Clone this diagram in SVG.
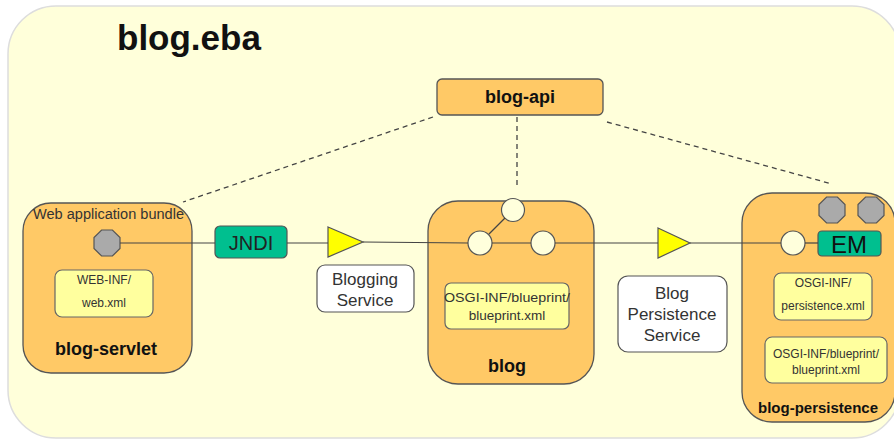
<svg xmlns="http://www.w3.org/2000/svg" width="894" height="439" viewBox="0 0 894 439">
<defs>
<style>
.bundle{fill:#FFC966;stroke:#555;stroke-width:1.3}
.inner{fill:#FFFF9E;stroke:#666;stroke-width:1.2}
.oct{fill:#AAAAAA;stroke:#555;stroke-width:1.2}
.circ{fill:#FFFFDC;stroke:#555;stroke-width:1.2}
.teal{fill:#00BF8F;stroke:#555;stroke-width:1.2}
.tri{fill:#FFFF00;stroke:#555;stroke-width:1.2}
.label{fill:#fff;stroke:#555;stroke-width:1.2}
.wire{stroke:#444;stroke-width:1.2;fill:none}
.dash{stroke:#444;stroke-width:1.3;fill:none;stroke-dasharray:5 4}
text{font-family:"Liberation Sans",Arial,sans-serif;fill:#222}
.b{font-weight:bold;fill:#111}
.s{font-size:12px;fill:#333}
.m{font-size:17px;fill:#333}
</style>
</defs>
<rect x="8" y="6" width="892" height="432" rx="48" fill="#FFFFDA" stroke="#DDDDDD" stroke-width="1.5"/>
<text x="117" y="50" class="b" font-size="35">blog.eba</text>

<g id="blog-api">
<rect x="437" y="79" width="166" height="36" rx="5" class="bundle"/>
<text x="520" y="103" class="b" font-size="18" text-anchor="middle">blog-api</text>
</g>

<g id="blog-servlet">
<rect x="23" y="203" width="169" height="170" rx="28" class="bundle"/>
<text x="33" y="219" font-size="14" style="fill:#333" textLength="151" lengthAdjust="spacingAndGlyphs">Web application bundle</text>
<polygon class="oct" points="101.6,230 112.4,230 120,237.6 120,248.4 112.4,256 101.6,256 94,248.4 94,237.6"/>
<rect x="55" y="270" width="98" height="47" rx="7" class="inner"/>
<text x="104" y="284" class="s" text-anchor="middle">WEB-INF/</text>
<text x="104" y="307" class="s" text-anchor="middle">web.xml</text>
<text x="106" y="355" class="b" font-size="18" text-anchor="middle">blog-servlet</text>
</g>

<g id="jndi">
<rect x="215" y="226" width="72" height="32" rx="5" class="teal"/>
<text x="251" y="250" font-size="20" text-anchor="middle">JNDI</text>
</g>

<g id="blogging-service">
<polygon class="tri" points="328,227 363,242 328,257"/>
<rect x="317" y="265" width="97" height="47" rx="8" class="label"/>
<text x="365" y="285" class="m" text-anchor="middle">Blogging</text>
<text x="365" y="306" class="m" text-anchor="middle">Service</text>
</g>

<g id="blog">
<rect x="428" y="201" width="166" height="183" rx="30" class="bundle"/>
<circle cx="513" cy="210" r="11.5" class="circ"/>
<circle cx="480" cy="243" r="12" class="circ"/>
<circle cx="543" cy="243" r="12" class="circ"/>
<rect x="445" y="283" width="124" height="46" rx="6" class="inner"/>
<text x="507" y="302" font-size="13.5" text-anchor="middle" style="fill:#333" textLength="126" lengthAdjust="spacingAndGlyphs">OSGI-INF/blueprint/</text>
<text x="507" y="320" font-size="13.5" text-anchor="middle" style="fill:#333">blueprint.xml</text>
<text x="507" y="372" class="b" font-size="18" text-anchor="middle">blog</text>
</g>

<g id="blog-persistence-service">
<polygon class="tri" points="658,228 690,243 658,258"/>
<rect x="618" y="276" width="109" height="76" rx="10" class="label"/>
<text x="672" y="299" class="m" text-anchor="middle">Blog</text>
<text x="672" y="320" class="m" text-anchor="middle">Persistence</text>
<text x="672" y="341" class="m" text-anchor="middle">Service</text>
</g>

<g id="blog-persistence">
<rect x="742" y="193" width="153" height="229" rx="30" class="bundle"/>
<polygon class="oct" points="826.6,197 837.4,197 845,204.6 845,215.4 837.4,223 826.6,223 819,215.4 819,204.6"/>
<polygon class="oct" points="865.6,197 876.4,197 884,204.6 884,215.4 876.4,223 865.6,223 858,215.4 858,204.6"/>
<circle cx="793" cy="243" r="12" class="circ"/>
<rect x="818" y="231" width="63" height="25" rx="4" class="teal"/>
<text x="849" y="253" font-size="24" text-anchor="middle" style="fill:#111">EM</text>
<rect x="774" y="273" width="98" height="47" rx="7" class="inner"/>
<text x="823" y="287" class="s" text-anchor="middle">OSGI-INF/</text>
<text x="823" y="310" class="s" text-anchor="middle">persistence.xml</text>
<rect x="765" y="337" width="122" height="46" rx="7" class="inner"/>
<text x="826" y="358" class="s" text-anchor="middle">OSGI-INF/blueprint/</text>
<text x="826" y="374" class="s" text-anchor="middle">blueprint.xml</text>
<text x="818" y="413" class="b" font-size="15" text-anchor="middle">blog-persistence</text>
</g>

<g id="connectors">
<line class="dash" x1="433" y1="117" x2="183" y2="202"/>
<line class="dash" x1="517" y1="117" x2="517" y2="189"/>
<line class="dash" x1="607" y1="122" x2="832" y2="184"/>
<line class="wire" x1="120" y1="243" x2="215" y2="243"/>
<line class="wire" x1="287" y1="243" x2="328" y2="243"/>
<line class="wire" x1="363" y1="242" x2="468" y2="243"/>
<line class="wire" x1="492" y1="243" x2="531" y2="243"/>
<line class="wire" x1="555" y1="243" x2="658" y2="243"/>
<line class="wire" x1="690" y1="243" x2="781" y2="243"/>
<line class="wire" x1="805" y1="243" x2="818" y2="243"/>
<line class="wire" x1="489" y1="234" x2="505" y2="218"/>
</g>
</svg>
